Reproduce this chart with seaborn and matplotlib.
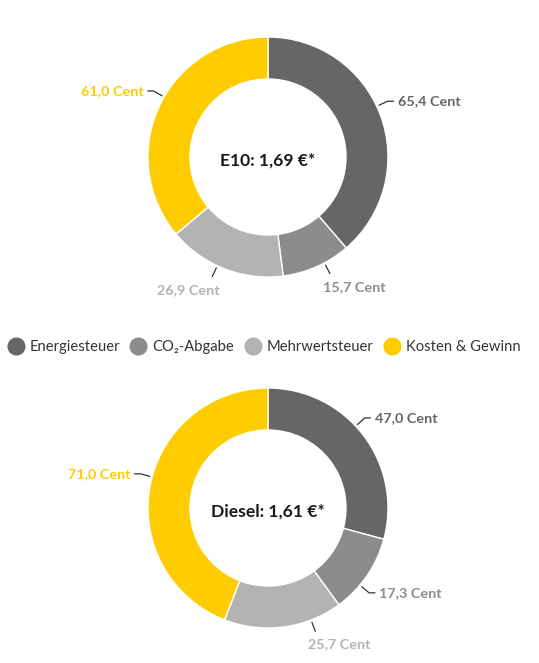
import matplotlib.pyplot as plt
from matplotlib.lines import Line2D
import numpy as np
import seaborn as sns

# data
CATEGORIES = ['Energiesteuer', 'CO₂-Abgabe', 'Mehrwertsteuer', 'Kosten & Gewinn']
E10_CENT = [65.4, 15.7, 26.9, 61.0]
DIESEL_CENT = [47.0, 17.3, 25.7, 71.0]
TITLES = ['E10: 1,69 €*', 'Diesel: 1,61 €*']

# layout (label leader angles, clockwise from top)
E10_LABEL_ANGLES = [65, 152, 205, 300]
DIESEL_LABEL_ANGLES = [47, 130, 159, 285]

COLORS = ['#666666', '#8c8c8c', '#b3b3b3', '#ffcc00']

sns.set_theme(style='white')
plt.rcParams['font.family'] = ['Lato', 'DejaVu Sans']

W, H = 539, 663
fig = plt.figure(figsize=(W/100, H/100), dpi=100)
fig.patch.set_facecolor('white')


def fmt(v):
    return f'{v:.1f}'.replace('.', ',') + ' Cent'


def donut(cx, cy, values, label_angles, title):
    """cx, cy in pixels from top-left, radius 120px"""
    size = 300
    ax = fig.add_axes([(cx - size/2)/W, (H - cy - size/2)/H, size/W, size/H])
    ax.pie(values, radius=1, startangle=90, counterclock=False, colors=COLORS,
           wedgeprops=dict(width=0.35, edgecolor='white', linewidth=1))
    ax.text(0, -0.03, title, ha='center', va='center', fontsize=12.6,
            fontweight='bold', color='#1a1a1a')

    for v, ang, col in zip(values, label_angles, COLORS):
        t = np.deg2rad(ang)
        dx, dy = np.sin(t), np.cos(t)
        a = (1.02*dx, 1.02*dy)
        b = (1.10*dx, 1.10*dy)
        s = 1 if dx > 0 else -1
        if abs(dx) > 0.6:
            c = (b[0] + s*0.05, b[1])
            ax.plot([a[0], b[0], c[0]], [a[1], b[1], c[1]], color='#333333',
                    lw=0.9, clip_on=False)
            ax.text(c[0] + s*0.035, c[1], fmt(v), ha='left' if s > 0 else 'right',
                    va='center', fontsize=10.4, fontweight='bold', color=col)
        else:
            ax.plot([a[0], b[0]], [a[1], b[1]], color='#333333', lw=0.9,
                    clip_on=False)
            ax.text(b[0] + s*0.2, b[1] - 0.11, fmt(v), ha='center', va='center',
                    fontsize=10.4, fontweight='bold', color=col)
    return ax


donut(268, 157, E10_CENT, E10_LABEL_ANGLES, TITLES[0])
donut(268, 508, DIESEL_CENT, DIESEL_LABEL_ANGLES, TITLES[1])

handles = [Line2D([], [], marker='o', linestyle='none', markersize=12,
                  markerfacecolor=c, markeredgecolor=c) for c in COLORS]
leg = fig.legend(handles, CATEGORIES, loc='center', bbox_to_anchor=(0.489, 1 - 347/H),
                 ncol=4, frameon=False, fontsize=10.6, handletextpad=0.35,
                 columnspacing=0.65, handlelength=1.2, borderaxespad=0)
for txt in leg.get_texts():
    txt.set_color('#333333')

fig.savefig('out.png', dpi=100, facecolor='white')
